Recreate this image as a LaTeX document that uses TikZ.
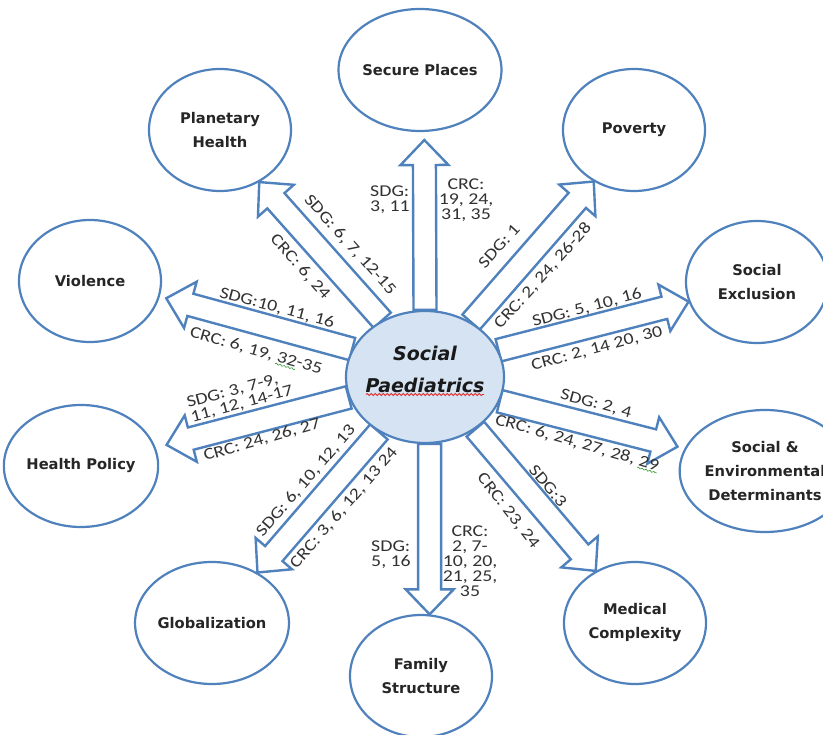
\documentclass[tikz,border=0pt]{standalone}
\usepackage{fontspec}
\setmainfont{Carlito}
\newfontfamily\lblfamily{Carlito}[FakeStretch=1.2]
\newfontfamily\circfamily{DejaVu Sans}
\usetikzlibrary{shapes.geometric,calc,decorations.pathmorphing}

\definecolor{arrowblue}{RGB}{79,129,189}
\definecolor{hubfill}{RGB}{214,227,242}
\definecolor{labelgray}{RGB}{50,50,50}
\definecolor{squigred}{RGB}{225,40,40}
\definecolor{squiggreen}{RGB}{50,150,50}

\newcommand\shaftw{11.5pt}
\newcommand\headw{24pt}
\newcommand\headl{25pt}

\pgfdeclarelayer{back}
\pgfdeclarelayer{arrows}
\pgfsetlayers{back,arrows,main}

\tikzset{
  topic/.style={ellipse, draw=arrowblue, line width=2.2pt, fill=white,
    minimum width=142pt, minimum height=122pt, inner sep=0pt, align=center,
    font=\circfamily\bfseries\fontsize{14.7}{24}\selectfont, text=black!85},
  hub/.style={ellipse, draw=arrowblue, line width=2.2pt, fill=hubfill,
    minimum width=158pt, minimum height=132pt, inner sep=0pt},
  hubtext/.style={align=center, inner sep=0pt,
    font=\circfamily\bfseries\itshape\fontsize{19}{32}\selectfont, text=black!90},
  lbl/.style={font=\lblfamily\fontsize{16.5}{15}\selectfont, text=labelgray,
    inner sep=0pt, align=center},
  squiggle/.style={line width=0.8pt, decorate,
    decoration={snake, segment length=4pt, amplitude=1pt}},
  blockarrow/.style={draw=arrowblue, line width=2.4pt, fill=white, line join=miter,
    to path={let \p1=(\tikztostart), \p2=(\tikztotarget),
      \n1={atan2(\y2-\y1,\x2-\x1)}, \n2={veclen(\x2-\x1,\y2-\y1)} in
      ($(\p1)+(\n1+90:\shaftw)$) -- ++(\n1:\n2-\headl) -- ++(\n1+90:\headw-\shaftw)
      -- (\p2) -- ($(\p2)+(\n1+180:\headl)+(\n1-90:\headw)$)
      -- ++(\n1+90:\headw-\shaftw) -- ($(\p1)+(\n1-90:\shaftw)$) -- cycle}}
}

\begin{document}
\begin{tikzpicture}[x=1pt, y=-1pt]
  \begin{pgfonlayer}{back}
    \fill[white] (0,0) rectangle (823,735);
  \end{pgfonlayer}
  \useasboundingbox (0,0) rectangle (823,735);

  % Centre
  \node[hub] (sp) at (425,377) {};
  \node[hubtext] (sptxt) at (425,369) {Social\\Paediatrics};
  \draw[squiggle, squigred] ($(sptxt.south)+(-59,2)$) -- ($(sptxt.south)+(59,2)$);

  % Topics
  \node[topic] (secure) at (420,70) {Secure Places};
  \node[topic] (pov) at (634,130) {Poverty};
  \node[topic] (socex) at (757,282) {Social\\Exclusion};
  \node[topic] (socenv) at (765,471) {Social \&\\Environmental\\Determinants};
  \node[topic] (med) at (635,623) {Medical\\Complexity};
  \node[topic] (fam) at (421,676) {Family\\Structure};
  \node[topic] (glob) at (212,623) {Globalization};
  \node[topic] (hp) at (81,466) {Health Policy};
  \node[topic] (vio) at (90,281) {Violence};
  \node[topic] (pla) at (220,130) {Planetary\\Health};

  % Arrows
  \begin{pgfonlayer}{arrows}
    \draw[blockarrow] (sp.90) to ([yshift=-8pt]secure.-86);
    \draw[blockarrow] (sp.50) to (pov.232);
    \draw[blockarrow] (sp.20) to (socex.196);
    \draw[blockarrow] (sp.-18) to ([xshift=-8pt]socenv.163);
    \draw[blockarrow] (sp.-46) to (med.127);
    \draw[blockarrow] (sp.-86) to (fam.82);
    \draw[blockarrow] (sp.230) to (glob.48);
    \draw[blockarrow] (sp.195) to ([xshift=12pt]hp.16);
    \draw[blockarrow] (sp.159) to ([xshift=7pt]vio.-14);
    \draw[blockarrow] (sp.127) to (pla.-53);
  \end{pgfonlayer}

  % SDG and CRC labels
  \node[lbl, align=left] (secure-sdg) at (390,200) {SDG:\\3, 11};
  \node[lbl] (secure-crc) at (466,200) {CRC:\\19, 24,\\31, 35};
  \node[lbl, rotate=48] (pov-sdg) at (499,246) {SDG: 1};
  \node[lbl, rotate=48] (pov-crc) at (543,276) {CRC: 2, 24, 26-28};
  \node[lbl, rotate=15] (socex-sdg) at (587,308) {SDG: 5, 10, 16};
  \node[lbl, rotate=15] (socex-crc) at (597,349) {CRC: 2, 14 20, 30};
  \node[lbl, rotate=-15] (socenv-sdg) at (596,404) {SDG: 2, 4};
  \node[lbl, rotate=-16] (socenv-crc) at (577,443) {CRC: 6, 24, 27, 28, 29};
  \node[lbl, rotate=-50] (med-sdg) at (548,486) {SDG:3};
  \node[lbl, rotate=-52] (med-crc) at (508,511) {CRC: 23, 24};
  \node[lbl, align=left] (fam-sdg) at (391,555) {SDG:\\5, 16};
  \node[lbl] (fam-crc) at (470,561) {CRC:\\2, 7-\\10, 20,\\21, 25,\\35};
  \node[lbl, rotate=49] (glob-sdg) at (306,481) {SDG: 6, 10, 12, 13};
  \node[lbl, rotate=49] (glob-crc) at (344,508) {CRC: 3, 6, 12, 13 24};
  \node[lbl, align=left, rotate=15] (hp-sdg) at (240,397) {SDG: 3, 7-9,\\11, 12, 14-17};
  \node[lbl, rotate=16] (hp-crc) at (262,440) {CRC: 24, 26, 27};
  \node[lbl, rotate=-15] (vio-sdg) at (277,308) {SDG:10, 11, 16};
  \node[lbl, rotate=-16] (vio-crc) at (256,351) {CRC: 6, 19, 32-35};
  \node[lbl, rotate=-48] (pla-sdg) at (350,245) {SDG: 6, 7, 12-15};
  \node[lbl, rotate=-48] (pla-crc) at (300,267) {CRC: 6, 24};

  % Spelling marks
  \draw[squiggle, squiggreen, line width=0.6pt, decoration={amplitude=0.7pt}]
    ($(vio-crc.south west)!0.66!(vio-crc.south east)$) -- ($(vio-crc.south west)!0.81!(vio-crc.south east)$);
  \draw[squiggle, squiggreen, line width=0.6pt, decoration={amplitude=0.7pt}]
    ($(socenv-crc.south west)!0.88!(socenv-crc.south east)$) -- (socenv-crc.south east);
\end{tikzpicture}
\end{document}
